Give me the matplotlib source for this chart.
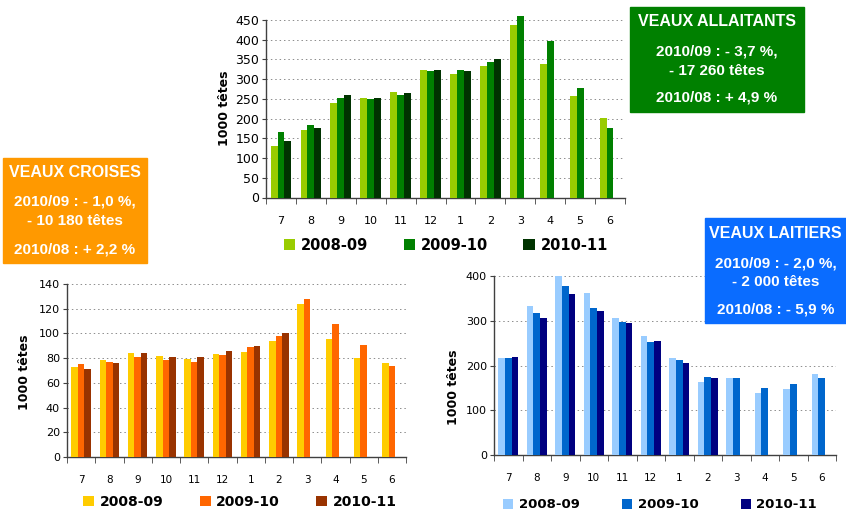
#!/usr/bin/env python
# -*- coding: utf-8 -*-
# Effectifs de veaux par mois : allaitants, croises, laitiers

import matplotlib
matplotlib.use('Agg')
import matplotlib.pyplot as plt
import numpy as np

#***********************************************************************
# Data (1000 tetes)
months = ['7', '8', '9', '10', '11', '12', '1', '2', '3', '4', '5', '6']
seasons = ['2008-09', '2009-10', '2010-11']

allaitants_0809 = [130, 171, 240, 252, 268, 323, 313, 333, 437, 339, 258, 202]
allaitants_0910 = [166, 184, 252, 250, 259, 321, 323, 344, 460, 397, 278, 176]
allaitants_1011 = [144, 177, 261, 251, 266, 324, 320, 350]

croises_0809 = [73, 78.6, 84.3, 81.9, 79.4, 83.5, 85.1, 94, 123.9, 95.6, 80.2, 76.2]
croises_0910 = [75.4, 77, 81, 78.6, 77, 82.7, 89.1, 98, 127.9, 107.7, 90.7, 73.8]
croises_1011 = [71.6, 75.7, 84.3, 81, 81, 85.9, 90.2, 100.7]

laitiers_0809 = [217, 333, 400, 362, 306, 266, 217, 163, 172, 138, 147, 181]
laitiers_0910 = [217, 317, 378, 328, 297, 252, 212, 174, 172, 150, 159, 172]
laitiers_1011 = [218, 306, 360, 322, 296, 255, 206, 172]

box_allaitants = ['VEAUX ALLAITANTS', '2010/09 : - 3,7 %,', '- 17 260 têtes', '2010/08 : + 4,9 %']
box_croises = ['VEAUX CROISES', '2010/09 : - 1,0 %,', '- 10 180 têtes', '2010/08 : + 2,2 %']
box_laitiers = ['VEAUX LAITIERS', '2010/09 : - 2,0 %,', '- 2 000 têtes', '2010/08 : - 5,9 %']

#***********************************************************************
W, H = 846., 516.

# pixel (from top-left) -> figure fraction
def px(x, y):
	return x / W, 1 - y / H

def ax_rect(x0, y0, x1, y1):
	return [x0 / W, 1 - y1 / H, (x1 - x0) / W, (y1 - y0) / H]


# One grouped bar chart
def bar_chart(fig, rect, series, colors, ymax, ystep, fsY, fsX, ylab_xy):
	ax = fig.add_axes(rect)
	x = np.arange(len(months))
	bw = 0.23
	for i, vals in enumerate(series):
		ax.bar(x[:len(vals)] + (i - 1) * bw, vals, bw, color=colors[i],
			   label=seasons[i], zorder=3, clip_on=False, linewidth=0)
	ax.set_xlim(-0.5, len(months) - 0.5)
	ax.set_ylim(0, ymax)
	ax.set_yticks(np.arange(0, ymax + 1, ystep))
	ax.yaxis.grid(True, color='#8c8c8c', linestyle=(0, (1.5, 3)), linewidth=0.7, zorder=0)
	ax.set_xticks(x)
	ax.set_xticklabels(months, fontsize=fsX)
	ax.set_xticks(np.arange(-0.5, len(months)), minor=True)
	ax.tick_params(axis='x', which='major', length=0, pad=13)
	ax.tick_params(axis='x', which='minor', length=4, direction='out', color='#404040')
	ax.tick_params(axis='y', labelsize=fsY, length=3, color='#404040', pad=2)
	for s in ['top', 'right']:
		ax.spines[s].set_visible(False)
	for s in ['left', 'bottom']:
		ax.spines[s].set_color('#404040')
		ax.spines[s].set_linewidth(1.0)
	fig.text(*px(*ylab_xy), '1000 têtes', rotation=90, fontsize=9, fontweight='bold',
			 ha='center', va='center')
	return ax


# Colored info box
def info_box(fig, x0, y0, x1, y1, color, lines, ys):
	xc = (x0 + x1) / 2.
	fig.patches.append(plt.Rectangle(px(x0, y1), (x1 - x0) / W, (y1 - y0) / H,
									 transform=fig.transFigure, color=color, zorder=10))
	for k, (txt, y) in enumerate(zip(lines, ys)):
		fig.text(*px(xc, y), txt, color='white', fontsize=11.5 if k == 0 else 11,
				 fontweight='bold', family='Liberation Sans', ha='center', va='center',
				 zorder=11)


def legend(fig, ax, center, fs, colsp):
	h, l = ax.get_legend_handles_labels()
	fig.legend(h, l, loc='center', bbox_to_anchor=px(*center), ncol=3, frameon=False,
			   prop={'weight': 'bold', 'size': fs}, handlelength=0.8, handleheight=0.8,
			   handletextpad=0.4, columnspacing=colsp, borderpad=0, borderaxespad=0)


#***********************************************************************
def main():
	fig = plt.figure(figsize=(W / 100, H / 100), dpi=100)

	# VEAUX ALLAITANTS
	ax1 = bar_chart(fig, ax_rect(266, 20, 625, 197.5),
					[allaitants_0809, allaitants_0910, allaitants_1011],
					['#99CC00', '#008000', '#003300'], 450, 50, 9, 8, (224, 108))
	legend(fig, ax1, (446, 245), 10.5, 2.4)

	# VEAUX CROISES
	ax2 = bar_chart(fig, ax_rect(67, 284, 406, 457),
					[croises_0809, croises_0910, croises_1011],
					['#FFCC00', '#FF6600', '#993300'], 140, 20, 8, 7.5, (25, 372))
	legend(fig, ax2, (240, 502), 10, 2.6)

	# VEAUX LAITIERS
	ax3 = bar_chart(fig, ax_rect(494, 276, 836, 455),
					[laitiers_0809, laitiers_0910, laitiers_1011],
					['#99CCFF', '#0066CC', '#000080'], 400, 100, 8, 7.5, (453, 387))
	legend(fig, ax3, (660, 505), 9.5, 3.2)

	info_box(fig, 630, 7, 804, 112, '#008000', box_allaitants, [22, 52, 71, 98])
	info_box(fig, 3, 158, 147, 263, '#FF9900', box_croises, [173, 202, 221, 249])
	info_box(fig, 705, 218, 846, 323, '#0A6CFF', box_laitiers, [233, 263, 282, 310])

	fig.savefig('out.png', dpi=100)


main()
